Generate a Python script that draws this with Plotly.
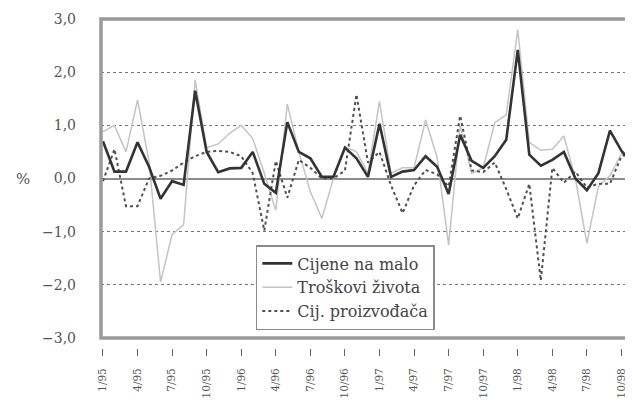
import plotly.graph_objects as go

months = ["1/95", "2/95", "3/95", "4/95", "5/95", "6/95", "7/95", "8/95", "9/95", "10/95", "11/95", "12/95",
          "1/96", "2/96", "3/96", "4/96", "5/96", "6/96", "7/96", "8/96", "9/96", "10/96", "11/96", "12/96",
          "1/97", "2/97", "3/97", "4/97", "5/97", "6/97", "7/97", "8/97", "9/97", "10/97", "11/97", "12/97",
          "1/98", "2/98", "3/98", "4/98", "5/98", "6/98", "7/98", "8/98", "9/98", "10/98", "11/98"]

tick_labels = ["1/95", "4/95", "7/95", "10/95", "1/96", "4/96", "7/96", "10/96",
               "1/97", "4/97", "7/97", "10/97", "1/98", "4/98", "7/98", "10/98"]

y_ticks = [-3, -2, -1, 0, 1, 2, 3]

cijene_na_malo = [0.70, 0.13, 0.13, 0.68, 0.22, -0.38, -0.05, -0.12, 1.65, 0.50, 0.12, 0.19,
                  0.20, 0.50, -0.10, -0.27, 1.06, 0.50, 0.38, 0.03, 0.03, 0.58, 0.38, 0.03,
                  1.03, 0.03, 0.13, 0.16, 0.42, 0.22, -0.29, 0.82, 0.33, 0.20, 0.42, 0.73,
                  2.42, 0.45, 0.24, 0.35, 0.50, 0.00, -0.22, 0.10, 0.90, 0.52, 0.27]

troskovi_zivota = [0.88, 1.00, 0.50, 1.48, 0.32, -1.95, -1.05, -0.87, 1.85, 0.58, 0.65, 0.85,
                   1.00, 0.75, 0.10, -0.60, 1.40, 0.50, -0.25, -0.75, 0.00, 0.60, 0.50, 0.10,
                   1.45, 0.10, 0.20, 0.20, 1.10, 0.40, -1.25, 1.00, 0.10, 0.20, 1.05, 1.20,
                   2.80, 0.68, 0.53, 0.55, 0.80, 0.00, -1.22, -0.15, 0.05, 0.47, 0.55]

cij_proizvodaca = [-0.05, 0.55, -0.52, -0.52, 0.00, 0.05, 0.15, 0.30, 0.42, 0.50, 0.52, 0.50,
                   0.42, 0.10, -0.98, 0.33, -0.36, 0.35, 0.20, 0.00, 0.00, 0.15, 1.58, 0.30,
                   0.50, -0.13, -0.65, -0.13, 0.16, 0.08, -0.15, 1.18, 0.15, 0.12, 0.30, -0.20,
                   -0.75, -0.10, -1.92, 0.20, -0.08, 0.13, -0.17, -0.10, -0.10, 0.42, 0.50]

FONT = "'DejaVu Serif', 'Liberation Serif', serif"
TXT = "#555555"

fig = go.Figure()
fig.add_trace(go.Scatter(x=months, y=troskovi_zivota, mode="lines", name="Troškovi života",
                         line=dict(color="#c4c4c4", width=1.5), legendgroup="b", legendrank=2))
fig.add_trace(go.Scatter(x=months, y=cij_proizvodaca, mode="lines", name="Cij. proizvođača",
                         line=dict(color="#505050", width=2, dash="dot"), legendgroup="c", legendrank=3))
fig.add_trace(go.Scatter(x=months, y=cijene_na_malo, mode="lines", name="Cijene na malo",
                         line=dict(color="#333333", width=2.6), legendgroup="a", legendrank=1))

fig.add_shape(type="rect", xref="x domain", yref="y domain", x0=0, x1=1, y0=0, y1=1,
              line=dict(color="#9a9a9a", width=3.5), layer="above")

fig.add_annotation(text="%", xref="paper", yref="y", x=-0.1466, y=0, showarrow=False,
                   font=dict(family=FONT, size=15, color=TXT), xanchor="center", yanchor="middle")

fig.update_layout(
    width=625, height=392,
    margin=dict(l=93, r=0, t=11, b=52, autoexpand=False),
    paper_bgcolor="white", plot_bgcolor="white",
    separators=",.",
    font=dict(family=FONT, color=TXT),
    showlegend=True,
    legend=dict(x=0.291, y=0.313, xanchor="left", yanchor="top",
                bgcolor="white", bordercolor="#8a8a8a", borderwidth=1.5,
                font=dict(family=FONT, size=16, color="#444444"),
                traceorder="grouped", tracegroupgap=0),
    xaxis=dict(type="category", range=[-0.17, 46.0], anchor="free", position=0,
               tickmode="array", tickvals=tick_labels, ticktext=tick_labels,
               tickangle=-90, ticks="outside", ticklen=7, tickwidth=1, tickcolor="#666666",
               ticklabelstandoff=8, automargin=False,
               showgrid=False, showline=False, zeroline=False,
               tickfont=dict(family=FONT, size=10.5, color=TXT)),
    yaxis=dict(range=[-3.0, 3.0], domain=[0.0304, 1], tickvals=y_ticks, tickformat=".1f",
               showgrid=True, gridcolor="#777777", griddash="dot", gridwidth=1,
               zeroline=True, zerolinecolor="#8c8c8c", zerolinewidth=2,
               showline=False, ticks="", ticklabelstandoff=24, automargin=False,
               tickfont=dict(family=FONT, size=14, color=TXT)),
)

fig.write_html("out.html")
